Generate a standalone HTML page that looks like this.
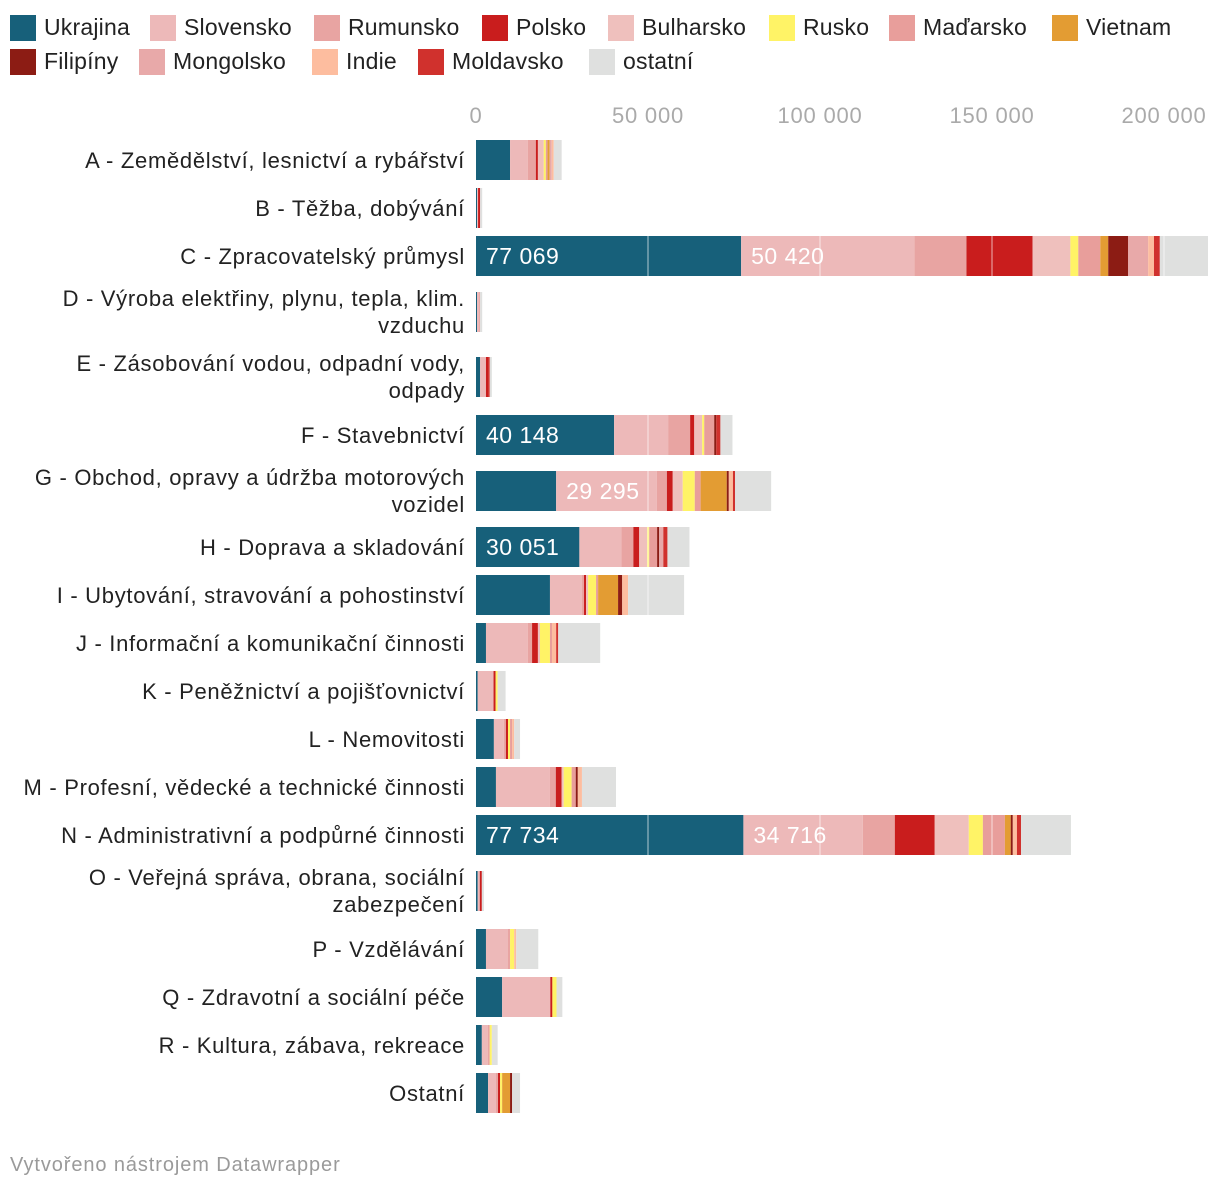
<!DOCTYPE html>
<html><head><meta charset="utf-8">
<style>
body{margin:0;background:#fff;font-family:"Liberation Sans",sans-serif;}
#wrap{position:relative;width:1220px;height:1192px;overflow:hidden;}
.lg{position:absolute;font-size:23px;color:#222;white-space:nowrap;letter-spacing:0.2px;}
.sq{position:absolute;width:26px;height:26px;}
</style></head><body>
<div id="wrap">
<div id="legend"></div>
<svg id="svg" width="1220" height="1192" style="position:absolute;left:0;top:0"></svg>
<div style="position:absolute;left:10px;top:1154px;font-size:20px;color:#9a9a9a;letter-spacing:0.9px">Vytvořeno nástrojem Datawrapper</div>
</div>
<script>
const series=["Ukrajina","Slovensko","Rumunsko","Polsko","Bulharsko","Rusko","Maďarsko","Vietnam","Filipíny","Mongolsko","Indie","Moldavsko","ostatní"];
const colors=["#17607a","#edb9b9","#e8a4a2","#c91d1d","#efc0bd","#fff366","#e89e9b","#e39c33","#8c1c14","#e8a9a9","#fdbd9f","#d0312d","#dfe0df"];
const categories=["A - Zemědělství, lesnictví a rybářství","B - Těžba, dobývání","C - Zpracovatelský průmysl","D - Výroba elektřiny, plynu, tepla, klim.|vzduchu","E - Zásobování vodou, odpadní vody,|odpady","F - Stavebnictví","G - Obchod, opravy a údržba motorových|vozidel","H - Doprava a skladování","I - Ubytování, stravování a pohostinství","J - Informační a komunikační činnosti","K - Peněžnictví a pojišťovnictví","L - Nemovitosti","M - Profesní, vědecké a technické činnosti","N - Administrativní a podpůrné činnosti","O - Veřejná správa, obrana, sociální|zabezpečení","P - Vzdělávání","Q - Zdravotní a sociální péče","R - Kultura, zábava, rekreace","Ostatní"];
// values per series, in category order
const ukrajina=[9900,300,77069,300,1200,40148,23300,30051,21500,2900,500,5200,5800,77734,500,2900,7600,1700,3500];
const slovensko=[5200,300,50420,600,1700,15700,29295,12200,9300,12200,4600,2900,15700,34716,600,6400,14000,1700,2300];
const rumunsko=[2300,0,15100,300,0,6400,2900,3500,600,1200,0,600,1700,9300,0,600,0,600,600];
const polsko=[600,600,19200,0,600,1200,1700,1700,600,1700,600,600,1700,11600,600,0,600,0,600];
const bulharsko=[1700,0,11000,0,0,2300,2900,2300,600,600,0,0,600,9900,0,0,0,0,0];
const rusko=[600,0,2300,0,0,600,3500,600,2300,2900,600,600,2300,4100,0,1200,1200,600,600];
const madarsko=[500,0,6400,0,0,2900,1700,2300,600,600,0,600,1200,6400,0,0,0,0,0];
const vietnam=[600,0,2300,0,0,0,7600,0,5800,0,0,0,0,1700,0,0,0,0,2300];
const filipiny=[0,0,5800,0,0,600,600,600,1200,0,0,0,600,600,0,0,0,0,600];
const mongolsko=[600,0,5800,0,0,0,0,1200,0,0,0,0,0,0,0,0,0,0,0];
const indie=[600,0,1700,0,0,0,1200,0,1700,1200,0,600,1200,1200,0,600,0,0,0];
const moldavsko=[0,0,1700,0,500,1200,600,1200,0,600,0,0,0,1200,0,0,0,0,0];
const ostatni=[2300,600,14000,600,600,3500,10500,6400,16300,12200,2300,1700,9900,14500,600,6400,1700,1700,2300];
const values=[ukrajina,slovensko,rumunsko,polsko,bulharsko,rusko,madarsko,vietnam,filipiny,mongolsko,indie,moldavsko,ostatni];
const ticks=[0,50000,100000,150000,200000];
const tickLabels=["0","50 000","100 000","150 000","200 000"];
const rowCenters=[160,208,256,312,377,435,491,547,595,643,691,739,787,835,891,949,997,1045,1093];

const X0=476, K=688/200000;
const x=v=>X0+v*K;
const NS="http://www.w3.org/2000/svg";
const svg=document.getElementById('svg');
function mk(t,a){const e=document.createElementNS(NS,t);for(const k in a)e.setAttribute(k,a[k]);svg.appendChild(e);return e;}

// legend
const lg=document.getElementById('legend');
const legPos=[[10,44,28],[150,184,28],[314,348,28],[482,516,28],[608,642,28],[769,803,28],[889,923,28],[1052,1086,28],[10,44,62],[139,173,62],[312,346,62],[418,452,62],[589,623,62]];
series.forEach((s,i)=>{
  const p=legPos[i];
  const sq=document.createElement('div');sq.className='sq';
  sq.style.left=p[0]+'px';sq.style.top=(p[2]-13)+'px';sq.style.background=colors[i];
  
  
  lg.appendChild(sq);
  const t=document.createElement('div');t.className='lg';
  t.style.left=p[1]+'px';t.style.top=(p[2]-14)+'px';t.textContent=s;
  
  
  lg.appendChild(t);
});

// axis ticks
ticks.forEach((t,i)=>{
  const e=mk('text',{x:x(t),y:123,'text-anchor':'middle','font-size':22,'letter-spacing':0.8,fill:'#aaa','font-family':'Liberation Sans, sans-serif'});
  e.textContent=tickLabels[i];
  
  
});

// bars
categories.forEach((c,ci)=>{
  const cy=rowCenters[ci];
  const parts=c.split('|');
  parts.forEach((p,pi)=>{
    const yy=parts.length==1?cy+8:cy-6+pi*27;
    const t=mk('text',{x:465,y:yy,'text-anchor':'end','font-size':22,'letter-spacing':0.7,fill:'#222','font-family':'Liberation Sans, sans-serif'});
    t.textContent=p;
    
    
  });
  let acc=0;
  series.forEach((s,si)=>{
    const v=values[si][ci];
    if(v<=0)return;
    const r=mk('rect',{x:x(acc),y:cy-20,width:x(acc+v)-x(acc),height:40,fill:colors[si]});
    
    
    if((si===0||si===1)&&v>=25000){
      const t=mk('text',{x:x(acc)+10,y:cy+8,'font-size':23,'letter-spacing':0.5,fill:'#fff','font-family':'Liberation Sans, sans-serif'});
      t.textContent=String(v).replace(/\B(?=(\d{3})+(?!\d))/g,' ');
      
      
    }
    acc+=v;
  });
});
// gridlines over bars
ticks.slice(1).forEach(t=>{
  const l=mk('line',{x1:x(t),x2:x(t),y1:135,y2:1115,stroke:'#fff','stroke-opacity':0.45,'stroke-width':1.5});
  
  
});
</script>
</body></html>
